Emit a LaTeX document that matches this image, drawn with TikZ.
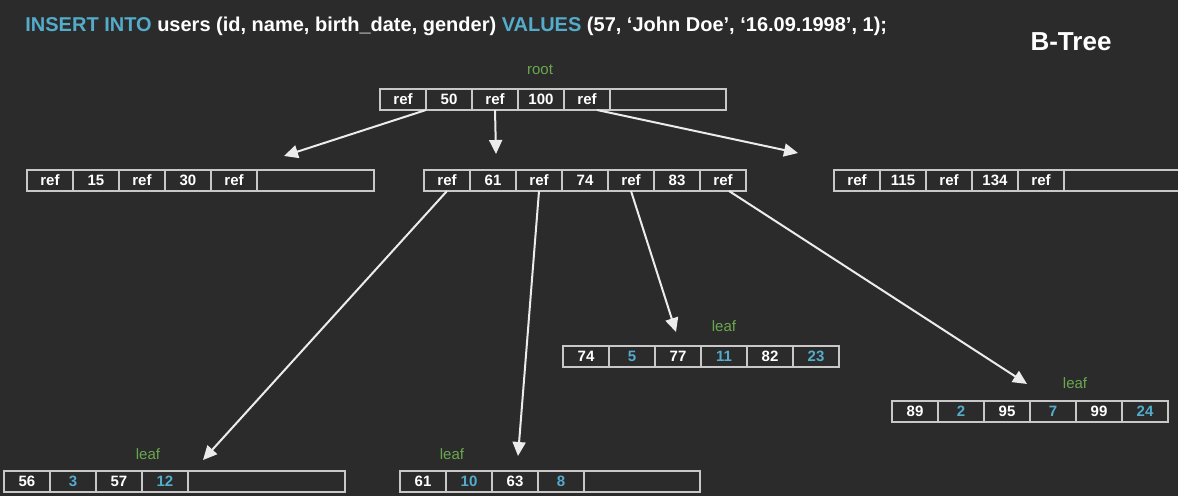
\documentclass[tikz,border=0pt]{standalone}
\usepackage{fontspec}
\setmainfont{Liberation Sans}
\usetikzlibrary{arrows.meta, positioning}
\definecolor{bgcolor}{RGB}{43, 43, 43}
\definecolor{keycolor}{RGB}{84, 172, 204}
\definecolor{labelcolor}{RGB}{106, 168, 79}
\definecolor{edgecolor}{RGB}{200, 200, 200}
\definecolor{arrowcolor}{RGB}{236, 236, 236}

\begin{document}
\begin{tikzpicture}[
    x=0.5pt, y=-0.5pt,
    % Cell of a tree node
    cell/.style={
        rectangle,
        draw=edgecolor,
        line width=0.75pt,
        minimum width=23pt,
        minimum height=10.5pt,
        inner sep=0pt,
        outer sep=0pt,
        text=white,
        font=\fontsize{7.5}{8}\selectfont\bfseries
    },
    % Empty space at the end of a node
    spare/.style={
        cell,
        minimum width=#1
    },
    % Value cell in a leaf
    val/.style={
        cell,
        text=keycolor
    },
    % Arrow style
    arrow/.style={
        -{Triangle[length=7pt, width=6.5pt]},
        line width=1pt,
        color=arrowcolor
    },
    % Node caption
    caption/.style={
        font=\fontsize{7.5}{8}\selectfont,
        text=labelcolor
    }
]

\useasboundingbox (0,0) rectangle (1178,496);
\fill[bgcolor] (0,0) rectangle (1178,496);

% ===== HEADER =====
\node[anchor=west, inner sep=0pt, text=white, font=\fontsize{10}{12}\selectfont\bfseries] (query) at (25,26) {%
    \textcolor{keycolor}{INSERT INTO} users (id, name, birth\_date, gender) \textcolor{keycolor}{VALUES} (57, ‘John Doe’, ‘16.09.1998’, 1);};
\node[text=white, font=\fontsize{13}{15}\selectfont\bfseries] (title) at (1071,42) {B-Tree};

% ===== ROOT =====
\node[caption] (rootlabel) at (540,70) {root};
\node[cell, anchor=north west] (r1) at (380,89) {ref};
\node[cell, right=0pt of r1] (r2) {50};
\node[cell, right=0pt of r2] (r3) {ref};
\node[cell, right=0pt of r3] (r4) {100};
\node[cell, right=0pt of r4] (r5) {ref};
\node[spare=58pt, right=0pt of r5] (r6) {};

% ===== SECOND LEVEL =====
\node[cell, anchor=north west] (a1) at (27,170) {ref};
\node[cell, right=0pt of a1] (a2) {15};
\node[cell, right=0pt of a2] (a3) {ref};
\node[cell, right=0pt of a3] (a4) {30};
\node[cell, right=0pt of a4] (a5) {ref};
\node[spare=58.5pt, right=0pt of a5] (a6) {};

\node[cell, anchor=north west] (b1) at (424,170) {ref};
\node[cell, right=0pt of b1] (b2) {61};
\node[cell, right=0pt of b2] (b3) {ref};
\node[cell, right=0pt of b3] (b4) {74};
\node[cell, right=0pt of b4] (b5) {ref};
\node[cell, right=0pt of b5] (b6) {83};
\node[cell, right=0pt of b6] (b7) {ref};

\node[cell, anchor=north west] (c1) at (834,170) {ref};
\node[cell, right=0pt of c1] (c2) {115};
\node[cell, right=0pt of c2] (c3) {ref};
\node[cell, right=0pt of c3] (c4) {134};
\node[cell, right=0pt of c4] (c5) {ref};
\node[spare=58pt, right=0pt of c5] (c6) {};

% ===== LEAVES =====
\node[caption] (leafa) at (724,326) {leaf};
\node[cell, anchor=north west] (la1) at (563,346) {74};
\node[val, right=0pt of la1] (la2) {5};
\node[cell, right=0pt of la2] (la3) {77};
\node[val, right=0pt of la3] (la4) {11};
\node[cell, right=0pt of la4] (la5) {82};
\node[val, right=0pt of la5] (la6) {23};

\node[caption] (leafb) at (1075,383) {leaf};
\node[cell, anchor=north west] (lb1) at (892,401) {89};
\node[val, right=0pt of lb1] (lb2) {2};
\node[cell, right=0pt of lb2] (lb3) {95};
\node[val, right=0pt of lb3] (lb4) {7};
\node[cell, right=0pt of lb4] (lb5) {99};
\node[val, right=0pt of lb5] (lb6) {24};

\node[caption] (leafc) at (148,454) {leaf};
\node[cell, anchor=north west] (lc1) at (4,471) {56};
\node[val, right=0pt of lc1] (lc2) {3};
\node[cell, right=0pt of lc2] (lc3) {57};
\node[val, right=0pt of lc3] (lc4) {12};
\node[spare=78.5pt, right=0pt of lc4] (lc5) {};

\node[caption] (leafd) at (452,454) {leaf};
\node[cell, anchor=north west] (ld1) at (400,471) {61};
\node[val, right=0pt of ld1] (ld2) {10};
\node[cell, right=0pt of ld2] (ld3) {63};
\node[val, right=0pt of ld3] (ld4) {8};
\node[spare=58pt, right=0pt of ld4] (ld5) {};

% ===== ARROWS =====
\coordinate (tipa) at (284,156);
\coordinate (tipb) at (496,154);
\coordinate (tipc) at (798,153);
\coordinate (tipd) at (203,460);
\coordinate (tipe) at (518,456);
\coordinate (tipf) at (676,332);
\coordinate (tipg) at (1027,384);

\draw[arrow] (r1.south east) -- (tipa);
\draw[arrow] (r3.south) -- (tipb);
\draw[arrow] ([xshift=5pt]r5.south) -- (tipc);
\draw[arrow] (b1.south) -- (tipd);
\draw[arrow] (b3.south) -- (tipe);
\draw[arrow] (b5.south) -- (tipf);
\draw[arrow] ([xshift=3pt]b7.south) -- (tipg);

\end{tikzpicture}
\end{document}
